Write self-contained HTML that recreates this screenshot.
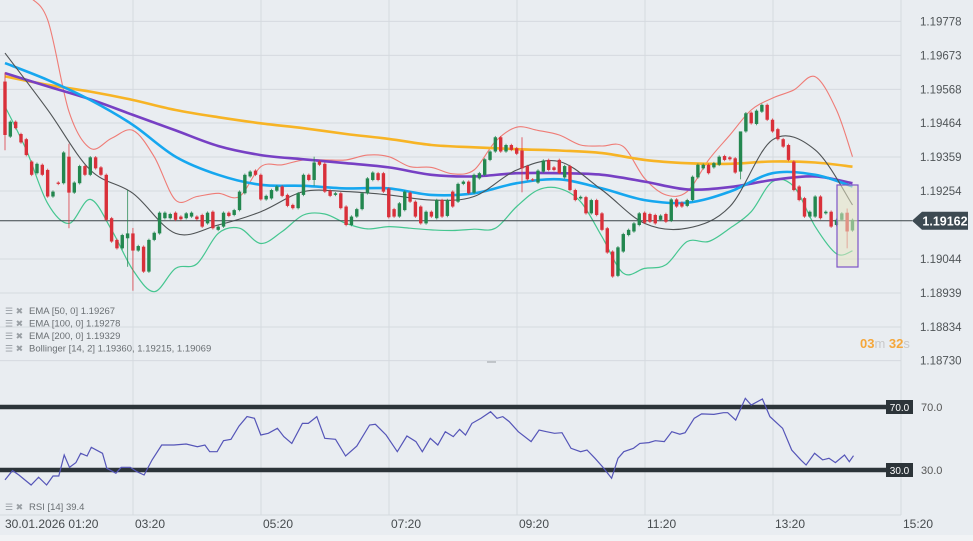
<!DOCTYPE html>
<html><head><meta charset="utf-8">
<style>
html,body{margin:0;padding:0;background:#e9edf1;}
svg{display:block;font-family:"Liberation Sans",sans-serif;}
</style></head>
<body>
<svg id="chart" width="973" height="541" viewBox="0 0 973 541" xmlns="http://www.w3.org/2000/svg">
<rect x="0" y="0" width="973" height="541" fill="#e9edf1"/>
<rect x="0" y="535" width="973" height="6" fill="#f1f3f5"/>
<g id="grid"></g>
<g id="lines"></g>
<g id="candles"></g>
<g id="overlay"></g>
<g id="rsi"></g>
<g id="axes"></g>
</svg>
<script>
const opens=[1.19592,1.19422,1.19468,1.19430,1.19414,1.19345,1.19309,1.19335,1.19319,1.19237,1.19280,1.19278,1.19360,1.19249,1.19278,1.19331,1.19304,1.19358,1.19327,1.19304,1.19170,1.19103,1.19077,1.19108,1.19123,1.19070,1.19082,1.19005,1.19103,1.19123,1.19170,1.19170,1.19187,1.19175,1.19170,1.19175,1.19175,1.19180,1.19154,1.19190,1.19134,1.19144,1.19187,1.19180,1.19195,1.19247,1.19299,1.19317,1.19304,1.19228,1.19231,1.19255,1.19268,1.19242,1.19211,1.19201,1.19242,1.19304,1.19288,1.19345,1.19338,1.19255,1.19242,1.19247,1.19206,1.19149,1.19175,1.19198,1.19247,1.19288,1.19309,1.19309,1.19262,1.19198,1.19175,1.19195,1.19249,1.19221,1.19206,1.19154,1.19190,1.19170,1.19226,1.19177,1.19252,1.19221,1.19276,1.19283,1.19249,1.19293,1.19304,1.19350,1.19376,1.19420,1.19376,1.19396,1.19386,1.19379,1.19331,1.19290,1.19280,1.19314,1.19350,1.19327,1.19350,1.19296,1.19331,1.19257,1.19231,1.19235,1.19185,1.19226,1.19185,1.19139,1.19067,1.18992,1.19067,1.19118,1.19129,1.19149,1.19187,1.19183,1.19180,1.19165,1.19183,1.19162,1.19228,1.19218,1.19208,1.19226,1.19296,1.19324,1.19335,1.19327,1.19335,1.19362,1.19358,1.19355,1.19314,1.19438,1.19496,1.19461,1.19499,1.19520,1.19474,1.19445,1.19414,1.19396,1.19345,1.19268,1.19232,1.19175,1.19175,1.19237,1.19185,1.19190,1.19149,1.19165,1.19187,1.19132];
const closes=[1.19427,1.19468,1.19448,1.19404,1.19365,1.19304,1.19338,1.19304,1.19237,1.19252,1.19276,1.19373,1.19249,1.19280,1.19331,1.19304,1.19358,1.19324,1.19304,1.19165,1.19098,1.19077,1.19118,1.19123,1.19070,1.19084,1.19005,1.19103,1.19125,1.19187,1.19187,1.19183,1.19165,1.19167,1.19185,1.19187,1.19167,1.19144,1.19187,1.19139,1.19144,1.19187,1.19177,1.19195,1.19252,1.19304,1.19314,1.19304,1.19228,1.19239,1.19257,1.19268,1.19239,1.19208,1.19201,1.19247,1.19304,1.19288,1.19342,1.19335,1.19252,1.19239,1.19247,1.19201,1.19149,1.19175,1.19198,1.19247,1.19293,1.19311,1.19288,1.19252,1.19173,1.19175,1.19216,1.19252,1.19221,1.19175,1.19154,1.19190,1.19175,1.19226,1.19175,1.19226,1.19206,1.19276,1.19283,1.19247,1.19304,1.19309,1.19352,1.19376,1.19420,1.19376,1.19396,1.19381,1.19369,1.19324,1.19290,1.19288,1.19317,1.19348,1.19319,1.19319,1.19309,1.19331,1.19257,1.19226,1.19236,1.19185,1.19226,1.19180,1.19134,1.19064,1.18990,1.19080,1.19121,1.19134,1.19154,1.19185,1.19156,1.19159,1.19154,1.19178,1.19159,1.19228,1.19206,1.19206,1.19226,1.19298,1.19335,1.19335,1.19309,1.19340,1.19360,1.19350,1.19352,1.19311,1.19438,1.19494,1.19463,1.19502,1.19520,1.19474,1.19438,1.19414,1.19391,1.19350,1.19257,1.19226,1.19175,1.19190,1.19237,1.19170,1.19190,1.19144,1.19165,1.19185,1.19129,1.19165];
const wickIdx=[0,12,23,24,58,97,138,158];
const wickHigh=[1.19620,1.19400,1.19257,1.19140,1.19360,1.19420,1.19330,1.19200];
const wickLow=[1.19380,1.19139,1.19020,1.18946,1.19270,1.19250,1.19290,1.19077];
const emaIdx=[0,8,16,24,32,40,48,56,64,72,80,88,96,104,112,120,128,136,144,152,159];
const ema200=[1.19608,1.19582,1.19561,1.19535,1.19504,1.19482,1.19463,1.19448,1.19430,1.19415,1.19396,1.19389,1.19383,1.19379,1.19371,1.19350,1.19340,1.19338,1.19345,1.19342,1.19329];
const ema100=[1.19618,1.19577,1.19537,1.19489,1.19441,1.19393,1.19365,1.19352,1.19340,1.19327,1.19304,1.19299,1.19309,1.19309,1.19304,1.19283,1.19259,1.19266,1.19288,1.19299,1.19278];
const ema50=[1.19649,1.19597,1.19535,1.19458,1.19360,1.19304,1.19273,1.19270,1.19262,1.19262,1.19242,1.19247,1.19278,1.19290,1.19262,1.19226,1.19218,1.19252,1.19309,1.19304,1.19268];
const bbMid=[1.19680,1.19505,1.19319,1.19247,1.19123,1.19149,1.19190,1.19252,1.19252,1.19242,1.19226,1.19237,1.19319,1.19345,1.19257,1.19154,1.19139,1.19206,1.19412,1.19381,1.19211];
const bbIdx=[0,4,8,12,16,20,24,28,32,36,40,44,48,52,56,60,64,68,72,76,80,84,88,92,96,100,104,108,112,116,120,124,128,132,136,140,144,148,152,156,159];
const bbUpper=[1.19968,1.19865,1.19783,1.19499,1.19386,1.19417,1.19441,1.19360,1.19226,1.19237,1.19247,1.19237,1.19329,1.19335,1.19350,1.19350,1.19350,1.19365,1.19360,1.19329,1.19327,1.19307,1.19319,1.19407,1.19451,1.19441,1.19427,1.19396,1.19393,1.19391,1.19293,1.19242,1.19252,1.19350,1.19427,1.19504,1.19541,1.19566,1.19607,1.19504,1.19360];
const bbLower=[1.19515,1.19381,1.19216,1.19154,1.19228,1.19134,1.19010,1.18943,1.19015,1.19029,1.19123,1.19139,1.19092,1.19129,1.19180,1.19183,1.19154,1.19137,1.19144,1.19139,1.19134,1.19132,1.19136,1.19139,1.19206,1.19257,1.19262,1.19221,1.19113,1.19000,1.19015,1.19026,1.19098,1.19098,1.19139,1.19190,1.19283,1.19268,1.19144,1.19060,1.19069];
const rsiIdx=[0,1.4,2.6,4.9,6.3,7.8,9.0,10.1,11.1,12.1,13.3,14.2,15.4,16.2,18.3,19.1,20.8,21.8,23.5,24.7,26.1,27.6,29.4,31.7,34.0,36.1,37.5,38.4,39.8,41.0,42.4,43.9,45.4,46.8,48.0,49.4,51.1,52.3,53.8,55.8,56.9,58.5,60.0,62.0,63.9,66.0,68.4,69.5,71.5,73.6,75.4,77.1,78.3,79.8,81.2,82.6,84.1,85.3,86.4,87.6,89.3,91.1,92.3,93.4,94.6,96.3,98.7,100.2,101.6,103.1,104.5,106.2,108.0,109.2,110.7,112.1,113.8,115.0,116.1,117.9,119.1,120.8,122.0,123.7,125.1,126.6,127.6,129.3,130.7,133.0,134.8,135.6,137.1,138.9,140.0,142.1,143.5,145.9,147.6,149.3,150.3,151.9,153.4,154.6,155.8,157.5,158.4,159.2];
const rsiVal=[23.7,29.6,26.8,20.5,25.4,20.5,26.2,26.2,39.5,31.7,34.7,40.6,38.9,44.4,40.6,31.1,27.9,31.7,31.7,29.0,26.8,36.4,45.9,45.9,46.5,44.8,45.9,41.6,41.6,48.6,49.5,57.9,63.9,62.8,52.2,53.3,56.5,51.2,46.9,59.6,59.6,63.9,50.1,49.5,38.9,45.2,58.6,59.0,52.2,41.6,51.6,48.0,41.6,50.1,45.9,54.3,51.2,55.8,52.2,59.6,62.8,67.0,62.8,63.9,60.7,54.3,48.0,55.4,54.3,53.3,53.7,43.8,41.6,42.7,37.4,32.1,24.7,37.4,41.6,43.8,46.9,47.4,48.6,48.0,54.3,52.7,53.7,62.8,65.6,65.3,66.4,66.4,61.7,75.5,71.3,75.1,63.9,56.5,42.7,36.4,33.2,40.6,36.4,37.4,34.7,39.5,35.3,39.1];
const priceTicks=["1.19778","1.19673","1.19568","1.19464","1.19359","1.19254","1.19044","1.18939","1.18834","1.18730"];
const timeTicks=["03:20","05:20","07:20","09:20","11:20","13:20","15:20"];
const lastPrice=1.19162;

const NS="http://www.w3.org/2000/svg";
function el(tag,attrs,parent){const e=document.createElementNS(NS,tag);for(const k in attrs)e.setAttribute(k,attrs[k]);parent.appendChild(e);return e;}
const yP=p=>191+(1.19254-p)/0.00105*34;
const xI=i=>5+i*5.33;
const yR=v=>470-(v-30)*1.575;
const G=id=>document.getElementById(id);

// grid
const grid=G('grid');
priceTicks.forEach(t=>{const y=yP(parseFloat(t));
 const l=el('line',{x1:0,x2:901,y1:y,y2:y,stroke:'#d5dadf','stroke-width':1},grid);
 
 });
timeTicks.forEach((t,k)=>{const x=133+128*k;
 const l=el('line',{x1:x,x2:x,y1:0,y2:515,stroke:'#d5dadf','stroke-width':1},grid);
 
 });
{const l=el('line',{x1:0,x2:901,y1:515,y2:515,stroke:'#d5dadf','stroke-width':1},grid);
 
 }

function smooth(pts){let d='M'+pts[0][0].toFixed(1)+','+pts[0][1].toFixed(1);
 for(let i=0;i<pts.length-1;i++){const p0=pts[i-1]||pts[i],p1=pts[i],p2=pts[i+1],p3=pts[i+2]||p2;
 const c1=[p1[0]+(p2[0]-p0[0])/6,p1[1]+(p2[1]-p0[1])/6],c2=[p2[0]-(p3[0]-p1[0])/6,p2[1]-(p3[1]-p1[1])/6];
 d+='C'+c1[0].toFixed(1)+','+c1[1].toFixed(1)+' '+c2[0].toFixed(1)+','+c2[1].toFixed(1)+' '+p2[0].toFixed(1)+','+p2[1].toFixed(1);}
 return d;}
const lines=G('lines');
function drawLine(idx,vals,color,w,name,op){const pts=idx.map((i,k)=>[xI(i),yP(vals[k])]);
 const p=el('path',{d:smooth(pts),fill:'none',stroke:color,'stroke-width':w,'stroke-opacity':op||1,'stroke-linejoin':'round'},lines);
 
 }
drawLine(bbIdx,bbUpper,'#ef6f68',1.1,'bollinger-upper',0.9);
drawLine(bbIdx,bbLower,'#45c690',1.2,'bollinger-lower',1);
drawLine(emaIdx,ema200,'#f7b425',2.6,'ema-200-line');
drawLine(emaIdx,ema100,'#7740c4',2.6,'ema-100-line');
drawLine(emaIdx,ema50,'#16a7ef',2.6,'ema-50-line');
drawLine(emaIdx,bbMid,'#4f5355',1.1,'bollinger-middle');

// last price line
{const l=el('line',{x1:0,x2:912,y1:yP(lastPrice),y2:yP(lastPrice),stroke:'#3b4449','stroke-width':1},lines);
 
 }

// candles
const cg=G('candles');
closes.forEach((c,i)=>{const o=opens[i];const up=c>=o;const col=up?'#23874f':'#d9303a';
 const k=wickIdx.indexOf(i);
 const hi=k>=0?wickHigh[k]:Math.max(o,c)+0.00004;const lo=k>=0?wickLow[k]:Math.min(o,c)-0.00004;
 const x=xI(i);
 const w=el('line',{x1:x,x2:x,y1:yP(hi),y2:yP(lo),stroke:col,'stroke-width':1,'stroke-opacity':0.75},cg);
 
 
 const top=yP(Math.max(o,c)),h=Math.max(1,yP(Math.min(o,c))-top);
 const r=el('rect',{x:x-1.7,y:top,width:3.4,height:h,fill:col},cg);
 
 });

// overlay highlight + tags
const ov=G('overlay');
{const r=el('rect',{x:837,y:185,width:21,height:82,fill:'rgba(230,228,195,0.55)',stroke:'#7d54c8','stroke-width':1.2},ov);
 
 }
{const yy=yP(lastPrice);
 const p=el('path',{d:`M912,${yy} L922,${yy-9} L968,${yy-9} L968,${yy+9} L922,${yy+9} Z`,fill:'#3d4a52'},ov);
 
 
 const t=el('text',{x:945,y:yy+4.5,'text-anchor':'middle','font-size':12.5,'font-weight':'bold',fill:'#fff'},ov);
 t.textContent='1.19162';
 
 }
{const t=el('text',{x:860,y:348,'font-size':13,'font-weight':'bold',fill:'#f5a73a'},ov);
 t.innerHTML='03<tspan fill="#c9c9c9" font-weight="normal">m </tspan>32<tspan fill="#c9c9c9" font-weight="normal">s</tspan>';
 
 }
{const l=el('line',{x1:487,x2:496,y1:362,y2:362,stroke:'#9aa0a5','stroke-width':1},ov);
 
 }
const legendItems=["EMA [50, 0] 1.19267","EMA [100, 0] 1.19278","EMA [200, 0] 1.19329","Bollinger  [14, 2] 1.19360,  1.19215,  1.19069"];
legendItems.forEach((s,k)=>{const y=314+k*12.5;
 const ic=el('text',{x:5,y:y,'font-size':9,fill:'#9aa0a5'},ov);ic.textContent='☰ ✖';
 
 
 const t=el('text',{x:29,y:y,'font-size':9.5,fill:'#6a6f73'},ov);t.textContent=s;
 
 });

// RSI pane
const rg=G('rsi');
[70,30].forEach(v=>{const y=yR(v);
 const l=el('line',{x1:0,x2:888,y1:y,y2:y,stroke:'#2c3439','stroke-width':4.5},rg);
 
 
 const b=el('rect',{x:886,y:y-7,width:27,height:14,fill:'#2c3439'},rg);
 
 
 const t=el('text',{x:899.5,y:y+4,'text-anchor':'middle','font-size':10,fill:'#fff'},rg);t.textContent=v.toFixed(1);
 
 
 const t2=el('text',{x:921,y:y+4,'font-size':11,fill:'#555'},rg);t2.textContent=v.toFixed(1);
 
 });
{const d=rsiIdx.map((i,k)=>(k?'L':'M')+xI(i).toFixed(1)+','+yR(rsiVal[k]).toFixed(1)).join('');
 const p=el('path',{d:d,fill:'none',stroke:'#5555b8','stroke-width':1.2},rg);
 
 }
{const ic=el('text',{x:5,y:510,'font-size':9,fill:'#9aa0a5'},rg);ic.textContent='☰ ✖';
 
 
 const t=el('text',{x:29,y:510,'font-size':9.5,fill:'#6a6f73'},rg);t.textContent='RSI [14]  39.4';
 
 }

// axes labels
const ax=G('axes');
priceTicks.forEach(s=>{const t=el('text',{x:920,y:yP(parseFloat(s))+4,'font-size':11.5,fill:'#505558'},ax);t.textContent=s;
 
 });
timeTicks.forEach((s,k)=>{const t=el('text',{x:135+128*k,y:528,'font-size':12,fill:'#464b4e'},ax);t.textContent=s;
 
 });
{const t=el('text',{x:5,y:528,'font-size':12,fill:'#464b4e'},ax);t.textContent='30.01.2026  01:20';
 t.setAttribute('xml:space','preserve');
 
 }
</script>
</body></html>
